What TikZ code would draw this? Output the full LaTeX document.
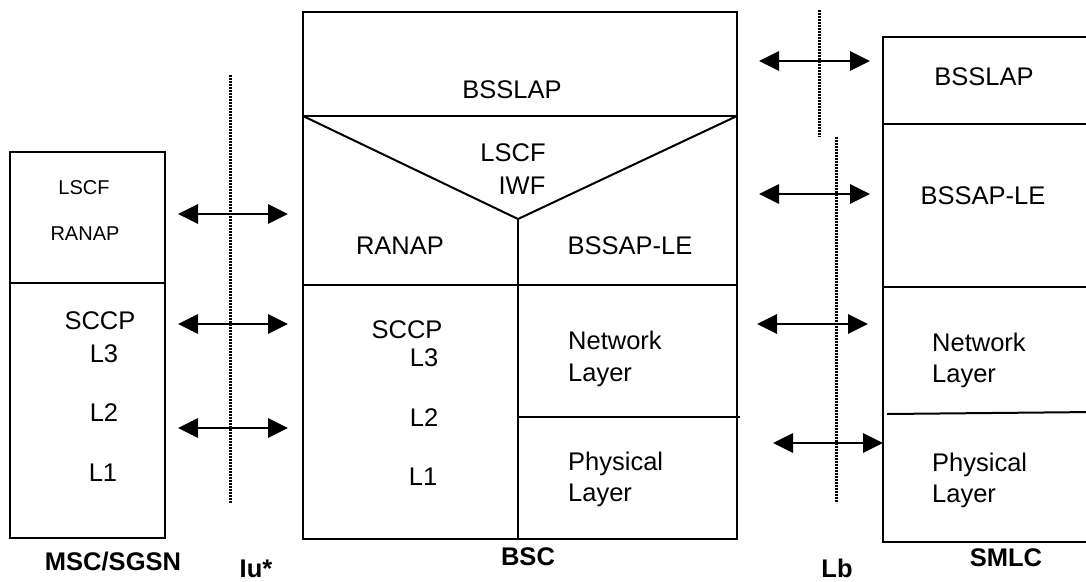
\documentclass[tikz,border=0pt]{standalone}
\usepackage{fontspec}
\setmainfont{Liberation Sans}
\usetikzlibrary{arrows.meta}
\begin{document}
\begin{tikzpicture}[x=1pt,y=-1pt,
  boxline/.style={line width=2pt},
  sepline/.style={line width=3pt, dash pattern=on 2pt off 1pt},
  iface/.style={line width=2.8pt, {Triangle[length=20pt,width=19pt]}-{Triangle[length=20pt,width=19pt]}},
  txt/.style={anchor=base, inner sep=0pt, font=\fontsize{25.5}{30}\selectfont},
  ltxt/.style={txt, anchor=base west},
  smalltxt/.style={txt, font=\fontsize{20}{24}\selectfont},
  lbl/.style={txt, font=\bfseries\fontsize{25.5}{30}\selectfont}]
\useasboundingbox (0,0) rectangle (1086,581);
\clip (0,0) rectangle (1086,581);
\fill[white] (0,0) rectangle (1086,581);

% MSC/SGSN
\draw[boxline] (10,152) rectangle (165,538);
\draw[boxline] (10,283) -- (165,283);
\node[smalltxt] (m1) at (84,194) {LSCF};
\node[smalltxt] (m2) at (85,240) {RANAP};
\node[txt] (m3) at (100,329) {SCCP};
\node[txt] (m4) at (104,362) {L3};
\node[txt] (m5) at (104,421) {L2};
\node[txt] (m6) at (103,481) {L1};
\node[lbl] (mscl) at (113,570) {MSC/SGSN};

% Iu interface
\coordinate (iut) at (230,75);
\coordinate (iub) at (230,503);
\draw[sepline] (iut) -- (iub);
\node[lbl] (iul) at (256,577) {Iu*};
\coordinate (a1l) at (178,214); \coordinate (a1r) at (288,214);
\coordinate (a2l) at (178,324); \coordinate (a2r) at (288,324);
\coordinate (a3l) at (178,428); \coordinate (a3r) at (288,428);
\draw[iface] (a1l) -- (a1r);
\draw[iface] (a2l) -- (a2r);
\draw[iface] (a3l) -- (a3r);

% BSC
\draw[boxline] (303,12) rectangle (737,539);
\draw[boxline] (303,116) -- (737,116);
\draw[boxline] (303,116) -- (518,219) -- (737,116);
\draw[boxline] (518,219) -- (518,539);
\draw[boxline] (303,285) -- (737,285);
\draw[boxline] (518,417) -- (740,417);
\node[txt] (b1) at (512,98) {BSSLAP};
\node[txt] (b2) at (513,161) {LSCF};
\node[txt] (b3) at (522,194) {IWF};
\node[txt] (b4) at (400,254) {RANAP};
\node[txt] (b5) at (630,254) {BSSAP-LE};
\node[txt] (b6) at (407,338) {SCCP};
\node[txt] (b7) at (424,366) {L3};
\node[txt] (b8) at (424,426) {L2};
\node[txt] (b9) at (423,485) {L1};
\node[ltxt] (b10) at (568,349) {Network};
\node[ltxt] (b11) at (568,381) {Layer};
\node[ltxt] (b12) at (568,470) {Physical};
\node[ltxt] (b13) at (568,501) {Layer};
\node[lbl] (bscl) at (528,565) {BSC};

% Lb interface
\coordinate (lbt1) at (819,10); \coordinate (lbb1) at (819,137);
\coordinate (lbt2) at (836,137); \coordinate (lbb2) at (836,503);
\draw[sepline] (lbt1) -- (lbb1);
\draw[sepline] (lbt2) -- (lbb2);
\node[lbl] (lbl) at (837,577) {Lb};
\coordinate (c1l) at (759,61);  \coordinate (c1r) at (870,61);
\coordinate (c2l) at (759,194); \coordinate (c2r) at (870,194);
\coordinate (c3l) at (757,324); \coordinate (c3r) at (868,324);
\coordinate (c4l) at (773,443); \coordinate (c4r) at (883,443);
\draw[iface] (c1l) -- (c1r);
\draw[iface] (c2l) -- (c2r);
\draw[iface] (c3l) -- (c3r);
\draw[iface] (c4l) -- (c4r);

% SMLC
\draw[boxline] (1095,37) -- (883,37) -- (883,542) -- (1095,542);
\draw[boxline] (883,124) -- (1095,124);
\draw[boxline] (883,287) -- (1095,287);
\draw[boxline] (887,414) -- (1095,412);
\node[txt] (s1) at (984,85) {BSSLAP};
\node[txt] (s2) at (983,204) {BSSAP-LE};
\node[ltxt] (s3) at (932,351) {Network};
\node[ltxt] (s4) at (932,382) {Layer};
\node[ltxt] (s5) at (932,471) {Physical};
\node[ltxt] (s6) at (932,502) {Layer};
\node[lbl] (smlcl) at (1006,566) {SMLC};
\end{tikzpicture}
\end{document}
